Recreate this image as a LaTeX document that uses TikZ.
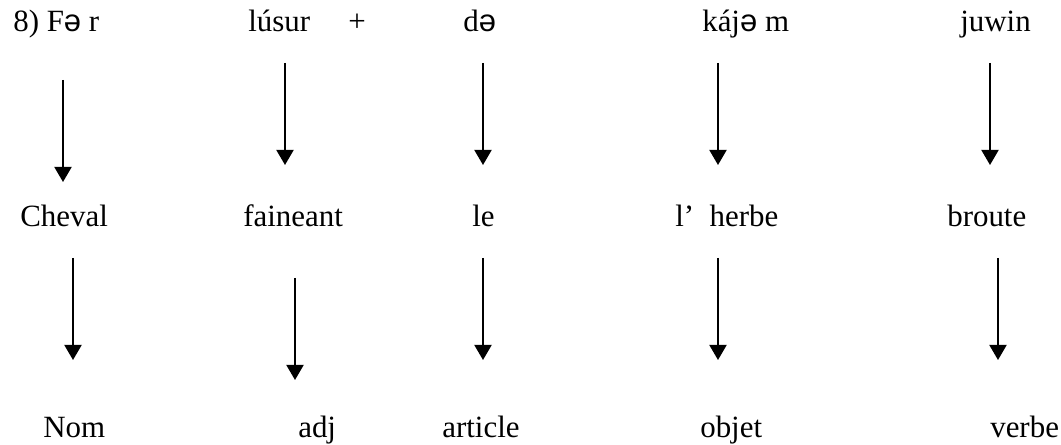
\documentclass[tikz,border=0pt]{standalone}
\usepackage{fontspec}
\setmainfont{Liberation Serif}
\newfontfamily\sansschwa{Liberation Sans}
\usetikzlibrary{arrows.meta}
\newcommand{\shwa}{{\sansschwa ə}}
\tikzset{
  word/.style={anchor=base west, inner sep=0pt, font=\fontsize{22}{26}\selectfont},
  down/.style={line width=1.4pt, -{Triangle[width=4.3mm, length=3.8mm]}}
}
\begin{document}
\begin{tikzpicture}[x=0.025cm, y=-0.025cm]
\useasboundingbox (0,0) rectangle (1061,445);

% first line: the sentence
\node[word] (fer) at (13,32) {8) F\shwa{} r};
\node[word] (lusur) at (248,32) {lúsur};
\node[word, anchor=base] (plus) at (357,32) {+};
\node[word] (de) at (463,32) {d\shwa};
\node[word] (kajem) at (702,32) {káj\shwa{} m};
\node[word] (juwin) at (960,32) {juwin};

% second line: the translation
\node[word] (cheval) at (20,227) {Cheval};
\node[word] (faineant) at (243,227) {faineant};
\node[word] (le) at (472,227) {le};
\node[word] (herbe) at (675,227) {l’~~herbe};
\node[word] (broute) at (947,227) {broute};

% third line: the categories
\node[word] (nom) at (43,438) {Nom};
\node[word] (adj) at (298,438) {adj};
\node[word] (article) at (442,438) {article};
\node[word] (objet) at (700,438) {objet};
\node[word] (verbe) at (990,438) {verbe};

% arrows between line 1 and line 2
\coordinate (fer-a) at (63,80);   \coordinate (fer-b) at (63,182);
\coordinate (lusur-a) at (285,63); \coordinate (lusur-b) at (285,165);
\coordinate (de-a) at (483,63);   \coordinate (de-b) at (483,165);
\coordinate (kajem-a) at (718,63); \coordinate (kajem-b) at (718,165);
\coordinate (juwin-a) at (990,63); \coordinate (juwin-b) at (990,165);
\draw[down] (fer-a) -- (fer-b);
\draw[down] (lusur-a) -- (lusur-b);
\draw[down] (de-a) -- (de-b);
\draw[down] (kajem-a) -- (kajem-b);
\draw[down] (juwin-a) -- (juwin-b);

% arrows between line 2 and line 3
\coordinate (cheval-a) at (73,258);   \coordinate (cheval-b) at (73,360);
\coordinate (faineant-a) at (295,278); \coordinate (faineant-b) at (295,380);
\coordinate (le-a) at (483,258);      \coordinate (le-b) at (483,360);
\coordinate (herbe-a) at (718,258);   \coordinate (herbe-b) at (718,360);
\coordinate (broute-a) at (998,258);  \coordinate (broute-b) at (998,360);
\draw[down] (cheval-a) -- (cheval-b);
\draw[down] (faineant-a) -- (faineant-b);
\draw[down] (le-a) -- (le-b);
\draw[down] (herbe-a) -- (herbe-b);
\draw[down] (broute-a) -- (broute-b);
\end{tikzpicture}
\end{document}
